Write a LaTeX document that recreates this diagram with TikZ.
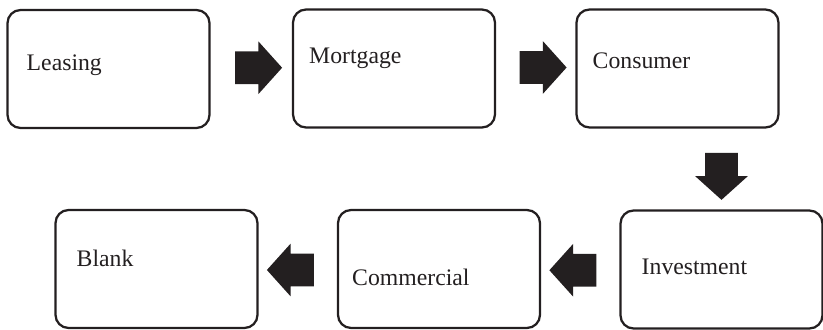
\documentclass[tikz,border=0pt]{standalone}
\usepackage{fontspec}
\setmainfont{Liberation Serif}
\usetikzlibrary{shapes.arrows,calc}

\definecolor{ink}{HTML}{231F20}

\begin{document}
\begin{tikzpicture}[x=0.02cm, y=-0.02cm, font=\fontsize{13.5}{15}\selectfont,
		box/.style={draw=ink, line width=0.045cm, rounded corners=0.26cm, minimum width=4.04cm, minimum height=2.36cm, inner sep=0pt},
		lbl/.style={anchor=base west, inner sep=0pt, text=ink},
		blockarrow/.style={single arrow, fill=ink, draw=none, inner xsep=0pt, inner ysep=0.32cm, minimum height=0.94cm, single arrow head extend=0.2cm, single arrow tip angle=96}]
		\useasboundingbox (0,0) rectangle (823,330);
		% top row
		\node[box] (leasing) at (108.5,69) {};
		\node[box] (mortgage) at (394,68.5) {};
		\node[box] (consumer) at (677.5,68.5) {};
		% bottom row
		\node[box] (blank) at (156.5,269) {};
		\node[box] (commercial) at (439,269) {};
		\node[box] (investment) at (721.5,269.5) {};
		% texts
		\node[lbl] (tleasing) at ($(leasing.north west)+(20,62)$) {Leasing};
		\node[lbl] (tmortgage) at ($(mortgage.north west)+(17,55)$) {Mortgage};
		\node[lbl] (tconsumer) at ($(consumer.north west)+(17,60)$) {Consumer};
		\node[lbl] (tblank) at ($(blank.north west)+(22,58)$) {Blank};
		\node[lbl] (tcommercial) at ($(commercial.north west)+(15,77)$) {Commercial};
		\node[lbl] (tinvestment) at ($(investment.north west)+(22,65)$) {Investment};
		% arrows
		\node[blockarrow] (a1) at ($(leasing.east)!0.5!(mortgage.west)+(0,-1)$) {};
		\node[blockarrow] (a2) at ($(mortgage.east)!0.5!(consumer.west)+(0,-1)$) {};
		\path (consumer.south) -- (investment.north) coordinate[midway] (m34);
		\node[blockarrow, rotate=-90] (a3) at (investment |- m34) {};
		\node[blockarrow, rotate=180] (a4) at ($(investment.west)!0.5!(commercial.east)+(0,1)$) {};
		\node[blockarrow, rotate=180] (a5) at ($(commercial.west)!0.5!(blank.east)+(0,1)$) {};
\end{tikzpicture}
\end{document}
